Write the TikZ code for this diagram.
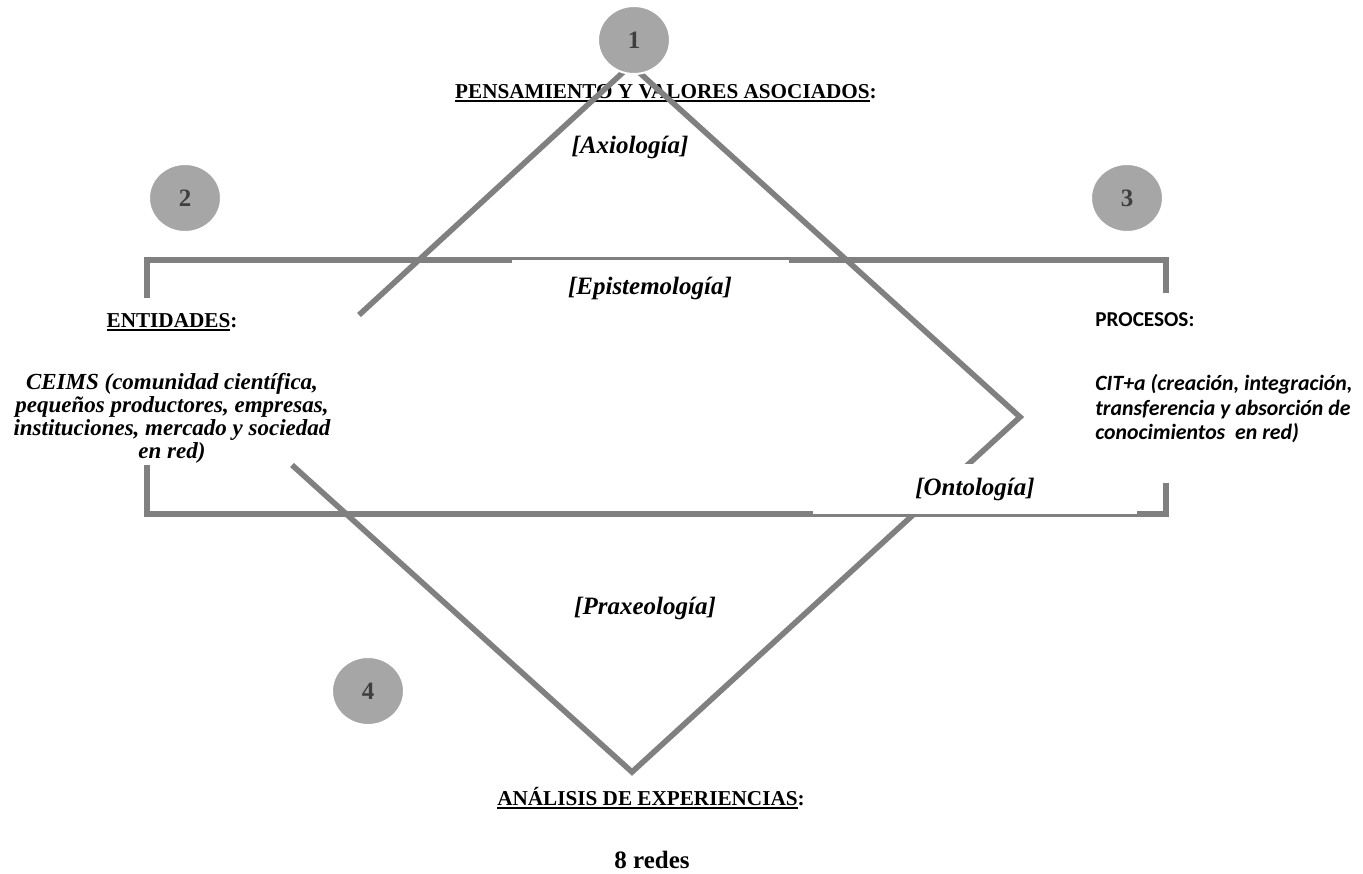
\documentclass[tikz,border=0pt]{standalone}
\usepackage{fontspec}
\setmainfont{Liberation Serif}
\newfontfamily\calibri{Carlito}
\newcommand{\thickul}[1]{\leavevmode\vtop{\hbox{#1}\kern0.7pt\hrule height 0.9pt}}
\usetikzlibrary{shapes.geometric}
\definecolor{linegray}{HTML}{808080}
\definecolor{dotgray}{HTML}{A6A6A6}
\definecolor{numgray}{HTML}{3F3F3F}

\begin{document}
\begin{tikzpicture}[x=0.5pt, y=-0.5pt,
	bar/.style={draw=linegray, line width=2.8pt},
	dot/.style={ellipse, fill=dotgray, draw=white, line width=1pt, minimum width=36pt, minimum height=34pt, inner sep=0pt, text=numgray, font=\bfseries\fontsize{12.5}{14}\selectfont},
	head/.style={font=\bfseries\fontsize{10.6}{12}\selectfont},
	level/.style={font=\bfseries\itshape\fontsize{12.5}{14}\selectfont},
	cover/.style={fill=white, inner sep=0pt},
	side/.style={font=\calibri\bfseries\itshape\fontsize{10.9}{12.25}\selectfont, align=left, anchor=west, inner sep=0pt}]
	\useasboundingbox (0,0) rectangle (1363,873);
	\node[head] (pens) at (666,93) {\thickul{PENSAMIENTO Y VALORES ASOCIADOS}:};
	\draw[bar] (147,298) -- (147,260) -- (1166,260) -- (1166,293);
	\draw[bar] (147,465) -- (147,514) -- (1166,514) -- (1166,483);
	\draw[bar] (359,315) -- (631,65) -- (1020,417) -- (632,772) -- (292,465);
	\node[dot] (n1) at (634,40) {1};
	\node[dot] (n2) at (185,198) {2};
	\node[dot] (n3) at (1127,198) {3};
	\node[dot] (n4) at (368,691) {4};
	\node[level] (axio) at (630,147) {[Axiología]};
	\node[level, cover, minimum width=138.5pt, minimum height=28pt] (epis) at (650,288) {[Epistemología]};
	\node[level, cover, minimum width=162pt, minimum height=25pt] (onto) at (975,489) {[Ontología]};
	\node[level] (prax) at (645,608) {[Praxeología]};
	\node[head] (ent) at (172,322) {\thickul{ENTIDADES}:};
	\node[font=\bfseries\itshape\fontsize{11.5}{11.5}\selectfont, align=center] (ceims) at (172,418) {CEIMS (comunidad científica,\\pequeños productores, empresas,\\instituciones, mercado y sociedad\\en red)};
	\node[side, font=\calibri\bfseries\fontsize{10.6}{12.5}\selectfont] (proc) at (1095,320) {PROCESOS:};
	\node[side] (cit) at (1095,409) {CIT+a (creación, integración,\\transferencia y absorción de\\conocimientos\ \ en red)};
	\node[head] (anal) at (651,798) {\thickul{ANÁLISIS DE EXPERIENCIAS}:};
	\node[head, font=\bfseries\fontsize{12.5}{14}\selectfont] (redes) at (652,860) {8 redes};
\end{tikzpicture}
\end{document}
